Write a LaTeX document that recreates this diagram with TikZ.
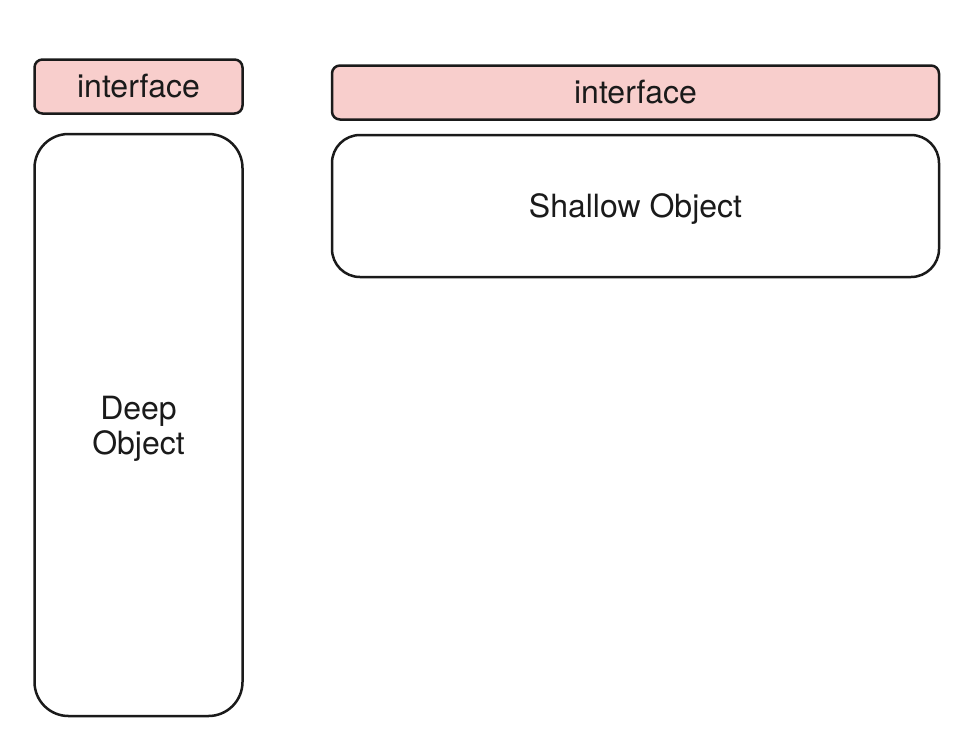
\documentclass[tikz,border=0pt]{standalone}
\usepackage{fontspec}
\setmainfont{TeX Gyre Heros}
\usetikzlibrary{positioning}
\definecolor{ifacepink}{HTML}{F8CECC}
\definecolor{edgegray}{HTML}{1A1A1A}

\begin{document}
\begin{tikzpicture}[x=0.5pt, y=-0.5pt, interface/.style={draw=edgegray, fill=ifacepink, line width=1.25pt, rounded corners=4pt, minimum height=27pt, inner sep=0pt, text=edgegray, font=\fontsize{16}{17.5}\selectfont}, objectbox/.style={draw=edgegray, line width=1.25pt, align=center, inner sep=0pt, text depth=0pt, text=edgegray, font=\fontsize{16}{17.5}\selectfont}]

	\useasboundingbox (0,0) rectangle (976,746);

	% Deep module
	\node[interface, minimum width=104pt] (ifdeep) at (138.5,86.5) {interface};
	\node[objectbox, minimum width=104pt, minimum height=291pt, rounded corners=17pt, below=9pt of ifdeep] (deep) {Deep\\Object};

	% Shallow module
	\node[interface, minimum width=303.5pt] (ifshallow) at (635.5,92.5) {interface};
	\node[objectbox, minimum width=303.5pt, minimum height=71pt, rounded corners=14pt, below=6.5pt of ifshallow] (shallow) {Shallow Object};

\end{tikzpicture}
\end{document}
